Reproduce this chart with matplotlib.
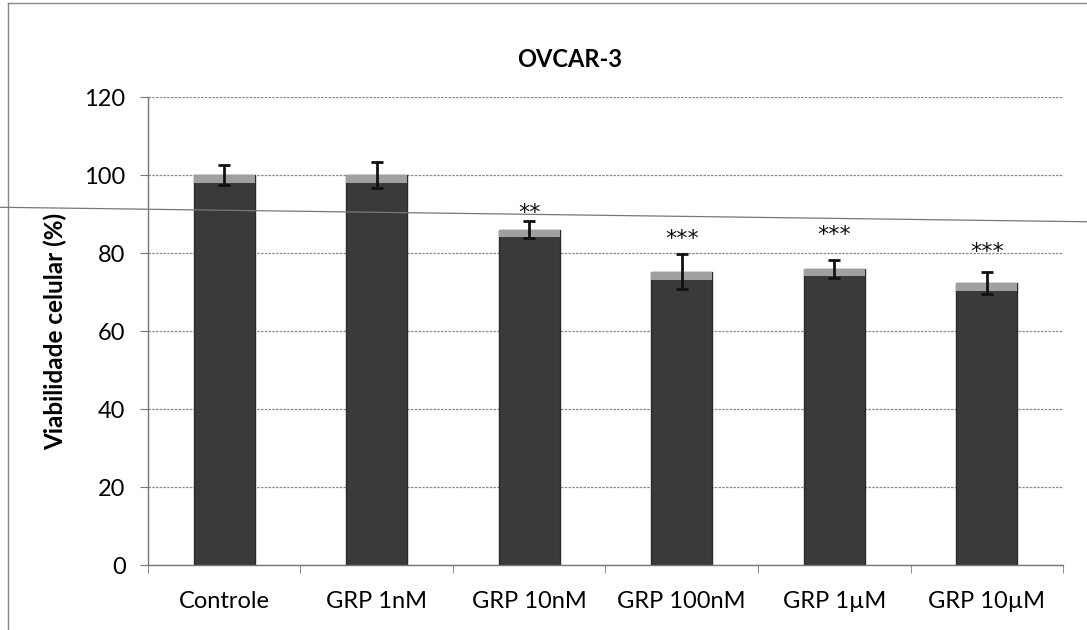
import numpy as np
import matplotlib.pyplot as plt
from matplotlib.lines import Line2D

# data
groups = ['Controle', 'GRP 1nM', 'GRP 10nM', 'GRP 100nM', 'GRP 1µM', 'GRP 10µM']
viability = [100.0, 100.0, 86.0, 75.2, 76.0, 72.3]
sd = [2.5, 3.4, 2.2, 4.5, 2.3, 2.9]
stars = ['', '', '**', '***', '***', '***']
star_y = [0, 0, 90.2, 83.7, 84.5, 80.2]

plt.rcParams['font.family'] = ['Lato', 'DejaVu Sans']

fig = plt.figure(figsize=(10.87, 6.30), dpi=100)
ax = fig.add_axes([0.136, 0.103, 0.842, 0.743])

x = np.arange(len(groups))
ax.bar(x, viability, width=0.4, color='#3a3a3a', edgecolor='#2a2a2a', zorder=2)
# lighter rim at the top of each bar
ax.bar(x, [2.0] * len(x), bottom=np.array(viability) - 2.0, width=0.4,
       color='#a0a0a0', edgecolor='none', zorder=3)
ax.errorbar(x, viability, yerr=sd, fmt='none', ecolor='#111111',
            elinewidth=2, capsize=4.5, capthick=2, zorder=4)

for i, s in enumerate(stars):
    if s:
        ax.text(x[i], star_y[i], s, ha='center', va='center', fontsize=16,
                family='DejaVu Sans', color='#111111', zorder=5)

ax.set_xlim(-0.5, len(groups) - 0.5)
ax.set_ylim(0, 120)
ax.set_yticks(range(0, 121, 20))
ax.set_xticks(x)
ax.set_xticklabels(groups, fontsize=17)
ax.set_xticks(np.arange(-0.5, len(groups)), minor=True)
ax.tick_params(axis='x', which='major', length=0, pad=19)
ax.tick_params(axis='x', which='minor', length=6, color='#777777')
ax.tick_params(axis='y', labelsize=17, length=6, color='#777777', pad=10)
ax.yaxis.grid(True, color='#8a8a8a', linewidth=0.9, linestyle=(0, (2, 1)), zorder=0)
ax.set_axisbelow(True)
for sp in ['top', 'right']:
    ax.spines[sp].set_visible(False)
for sp in ['left', 'bottom']:
    ax.spines[sp].set_color('#777777')
    ax.spines[sp].set_linewidth(1.0)

ax.set_ylabel('Viabilidade celular (%)', fontsize=17.5, fontweight='bold', labelpad=12)
fig.text(0.524, 0.905, 'OVCAR-3', ha='center', va='center', fontsize=17, fontweight='bold')

# page frame and scan line
fig.add_artist(Line2D([0.007, 0.007], [0.0, 0.995], color='#888888', linewidth=1.0))
fig.add_artist(Line2D([0.007, 1.0], [0.995, 0.995], color='#888888', linewidth=1.0))
fig.add_artist(Line2D([0.0, 1.0], [0.671, 0.648], color='#777777', linewidth=0.9))

fig.savefig('out.png', dpi=100)
